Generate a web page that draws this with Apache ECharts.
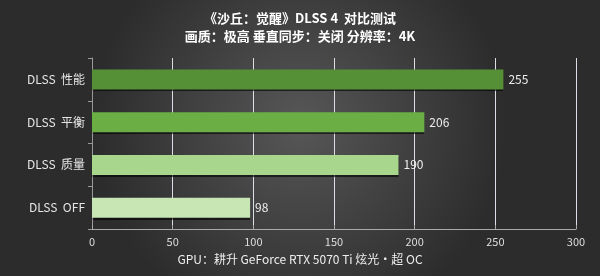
<!DOCTYPE html>
<html><head><meta charset="utf-8">
<script src="https://cdn.jsdelivr.net/npm/echarts@6/dist/echarts.min.js"></script>
<style>html,body{margin:0;padding:0;}#c{width:600px;height:276px;}</style>
</head><body><div id="c"></div>
<script>
const categories = ['DLSS  OFF', 'DLSS  质量', 'DLSS  平衡', 'DLSS  性能'];
const values = [98, 190, 206, 255];
const barColors = ['#c8e5b4', '#a7d68c', '#6aae44', '#558f36'];
const xTicks = [0, 50, 100, 150, 200, 250, 300];
const titleText = '《沙丘：觉醒》DLSS 4  对比测试\n画质：极高 垂直同步：关闭 分辨率：4K';
const footText = 'GPU：耕升 GeForce RTX 5070 Ti 炫光‧超 OC';

const chart = echarts.init(document.getElementById('c'));
const font = '"Microsoft YaHei","Noto Sans CJK SC",sans-serif';
chart.setOption({
  backgroundColor: {type:'radial', x:0.5, y:0.45, r:0.75, colorStops:[{offset:0,color:'#575757'},{offset:1,color:'#2c2c2c'}]},
  textStyle:{fontFamily:font},
  title:[{text:titleText, left:'center', top:4, textStyle:{color:'#ffffff', fontSize:13, fontWeight:'bold', lineHeight:18, fontFamily:font}},
         {text:footText, left:'center', top:248, textStyle:{color:'#eeeeee', fontSize:12, fontWeight:'normal', fontFamily:font}}],
  grid:{left:92, right:24, top:58, bottom:47},
  xAxis:{type:'value', min:xTicks[0], max:xTicks[xTicks.length-1], interval:50,
    axisLine:{show:true, lineStyle:{color:'#aaaaaa'}},
    axisTick:{show:true, inside:true, length:4, lineStyle:{color:'#aaaaaa'}},
    axisLabel:{color:'#dddddd', fontSize:11, margin:7}},
  yAxis:{type:'category', data:categories,
    axisLine:{show:true, lineStyle:{color:'#999999'}},
    axisTick:{show:true, length:4, lineStyle:{color:'#999999'}},
    axisLabel:{color:'#e6e6e6', fontSize:12, margin:7}},
  series:[{type:'bar', barWidth:20,
    data: values.map((v,i)=>({value:v, itemStyle:{color:barColors[i]}})),
    itemStyle:{shadowColor:'rgba(0,0,0,0.6)', shadowOffsetY:2, shadowBlur:1},
    label:{show:true, position:'right', color:'#eeeeee', fontSize:12, distance:5}}]
});
</script></body></html>
